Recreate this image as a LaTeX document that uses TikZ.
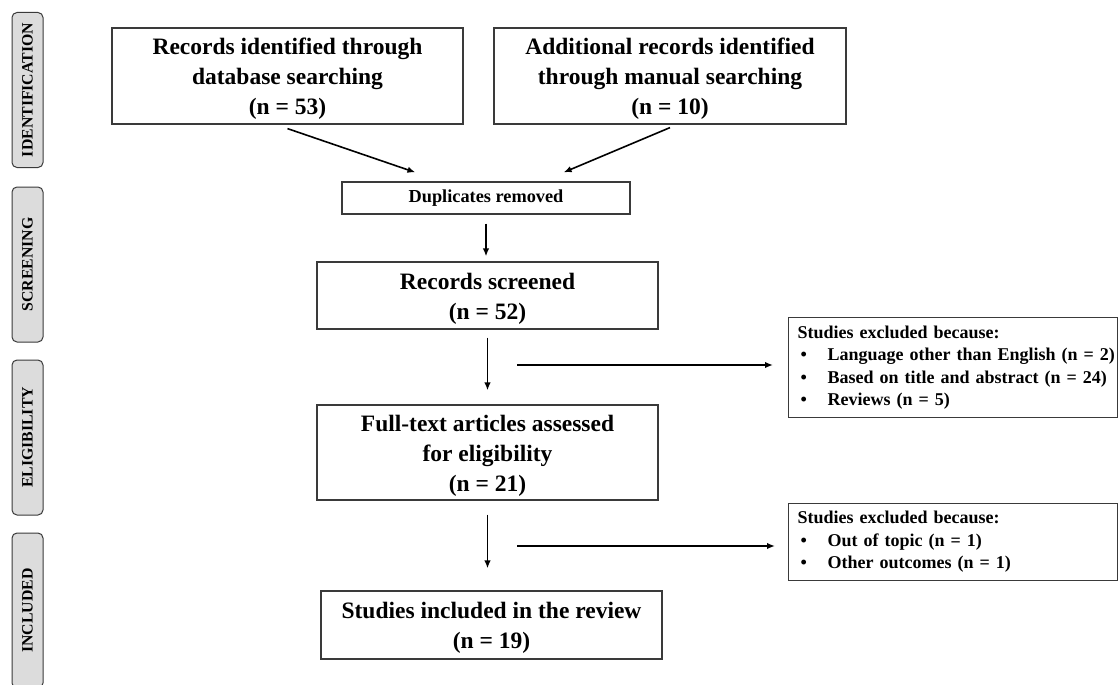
\documentclass[tikz,border=0pt]{standalone}
\usepackage{fontspec}
\setmainfont{Liberation Serif}
\usetikzlibrary{arrows.meta,calc}
\definecolor{edgecol}{HTML}{3A3A3A}
\definecolor{labfill}{HTML}{DCDCDC}
\begin{document}
\begin{tikzpicture}[x=1pt,y=-1pt,
  mainbox/.style={draw=edgecol, line width=1.2pt, align=center, inner sep=0pt,
    font=\bfseries\fontsize{23.5}{30}\selectfont},
  smallbox/.style={draw=edgecol, line width=1.2pt, align=center, inner sep=0pt,
    font=\bfseries\fontsize{18.3}{22.5}\selectfont},
  exclbox/.style={draw=edgecol, line width=1.2pt, align=left, anchor=north west,
    inner xsep=9pt, inner ysep=0pt, text width=311pt,
    font=\bfseries\fontsize{18}{22.5}\selectfont},
  phase/.style={draw=edgecol, line width=1pt, fill=labfill, rounded corners=5pt,
    rotate=90, minimum width=155pt, minimum height=31pt, inner sep=0pt,
    font=\bfseries\fontsize{15.8}{18}\selectfont},
  arr/.style={-{Latex[length=8pt,width=6.5pt]}, line width=1.6pt, draw=black}
]
\useasboundingbox (0,0) rectangle (1119,685);
\clip (0,0) rectangle (1119,685);

% phase labels
\node[phase] (p1) at (27.5,90) {IDENTIFICATION};
\node[phase] (p2) at (27.5,264.5) {SCREENING};
\node[phase] (p3) at (27.5,437.5) {ELIGIBILITY};
\node[phase] (p4) at (27.5,610.5) {INCLUDED};

% main boxes
\node[mainbox, minimum width=351pt, minimum height=96pt] (b1) at (287.5,76)
  {\rule{0pt}{22pt}Records identified through\\database searching\\(n = 53)};
\node[mainbox, minimum width=352pt, minimum height=96pt] (b2) at (670,76)
  {\rule{0pt}{22pt}Additional records identified\\through manual searching\\(n = 10)};
\node[smallbox, minimum width=288pt, minimum height=32pt] (dup) at (486,198)
  {Duplicates removed};
\node[mainbox, minimum width=341pt, minimum height=67pt] (scr) at (487.5,295.5)
  {\rule{0pt}{22pt}Records screened\\(n = 52)};
\node[mainbox, minimum width=341pt, minimum height=95pt] (full) at (487.5,452.5)
  {\rule{0pt}{22pt}Full-text articles assessed\\for eligibility\\(n = 21)};
\node[mainbox, minimum width=341pt, minimum height=68pt] (inc) at (491.5,625)
  {\rule{0pt}{22pt}Studies included in the review\\(n = 19)};

% exclusion boxes
\node[exclbox, minimum height=100pt] (ex1) at (788,317)
  {\mbox{Studies excluded because:}\\
   \mbox{\hspace*{3pt}\makebox[27pt][l]{\textbullet}Language other than English (n = 2)}\\
   \mbox{\hspace*{3pt}\makebox[27pt][l]{\textbullet}Based on title and abstract (n = 24)}\\
   \mbox{\hspace*{3pt}\makebox[27pt][l]{\textbullet}Reviews (n = 5)}};
\node[exclbox, minimum height=77pt] (ex2) at (788,503)
  {\mbox{Studies excluded because:}\\
   \mbox{\hspace*{3pt}\makebox[27pt][l]{\textbullet}Out of topic (n = 1)}\\
   \mbox{\hspace*{3pt}\makebox[27pt][l]{\textbullet}Other outcomes (n = 1)}};

% connectors
\draw[arr] ([yshift=-4pt]b1.south) -- ([xshift=74pt,yshift=9pt]dup.north west);
\draw[arr] ([yshift=-3pt]b2.south) -- ([xshift=-67pt,yshift=9pt]dup.north east);
\draw[arr] ([yshift=-9pt]dup.south) -- ([yshift=5pt]dup.south |- scr.north);
\draw[arr] ([yshift=-8pt]scr.south) -- ([yshift=14pt]full.north);
\draw[arr] ([yshift=-14pt]full.south) -- ([yshift=22pt]full.south |- inc.north);

\coordinate (s1) at (517,365);
\coordinate (s2) at (517,546);
\draw[arr, shorten >=15pt] (s1) -- (s1 -| ex1.west);
\draw[arr, shorten >=13pt] (s2) -- (s2 -| ex2.west);
\end{tikzpicture}
\end{document}
